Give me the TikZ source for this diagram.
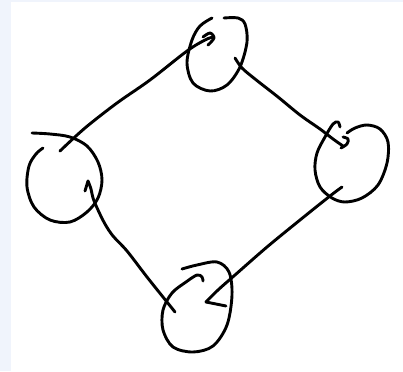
\documentclass[tikz,border=0pt]{standalone}
\usepackage{tikz}
\definecolor{paneblue}{RGB}{240,244,252}

\begin{document}
\begin{tikzpicture}[x=1pt, y=-1pt,
    pen/.style={black, line width=2.9pt, line cap=round, line join=round},
    loop/.style={pen, smooth, tension=0.55}]
  % Page: pale strip left and top, white sheet
  \fill[paneblue] (0,0) rectangle (403,371);
  \fill[white] (11,2) rectangle (403,371);
  \useasboundingbox (0,0) rectangle (403,371);
  % Ends of the hand-drawn connectors
  \coordinate (leftOut) at (60,151);
  \coordinate (topIn) at (213,37);
  \coordinate (topOut) at (235,58);
  \coordinate (rightIn) at (343,146);
  \coordinate (rightOut) at (342,187);
  \coordinate (bottomIn) at (206,302);
  \coordinate (bottomOut) at (175,312);
  \coordinate (leftIn) at (88,181);
  % Loops
  \draw[loop] plot coordinates {(212,18) (200,26) (192,40) (187,63) (193,83)
    (210,91) (227,85) (240,67) (247,42) (245,24) (238,18) (224,18)};
  \draw[loop] plot coordinates {(340,127) (338,122) (333,124) (325,137) (317,153)
    (315,170) (320,187) (332,198) (345,202) (362,198) (378,185) (387,163)
    (388,142) (380,129) (367,125) (355,128) (347,133)};
  \draw[loop] plot coordinates {(182,269) (197,265) (217,262) (229,272) (232,295)
    (227,325) (213,346) (193,352) (173,347) (163,330) (163,310) (172,293)
    (186,282) (197,275) (202,277) (203,281)};
  \draw[loop] plot coordinates {(32,133) (50,134) (70,137) (87,146) (98,162)
    (102,180) (98,198) (87,212) (70,222) (50,220) (34,207) (27,187) (29,166)
    (36,154) (43,148)};
  % Connectors
  \draw[loop] plot coordinates {(leftOut) (85,128) (117,103) (150,80) (187,51)
    (205,40) (topIn)};
  \draw[loop] plot coordinates {(203,37) (210,33) (214,38) (208,45)};
  \draw[loop] plot coordinates {(topOut) (242,68) (255,79) (278,97) (300,115)
    (320,129) (333,139) (rightIn)};
  \draw[loop] plot coordinates {(343,137) (348,139) (347,144) (341,148)};
  \draw[loop] plot coordinates {(rightOut) (330,196) (300,220) (267,247)
    (235,275) (218,290) (bottomIn)};
  \draw[pen] (bottomIn) -- (226,306);
  \draw[loop] plot coordinates {(bottomOut) (167,302) (147,277) (127,251)
    (113,236) (105,224) (98,210) (93,198) (91,189) (leftIn)};
  \draw[pen] (leftIn) -- (85,191);
\end{tikzpicture}
\end{document}
